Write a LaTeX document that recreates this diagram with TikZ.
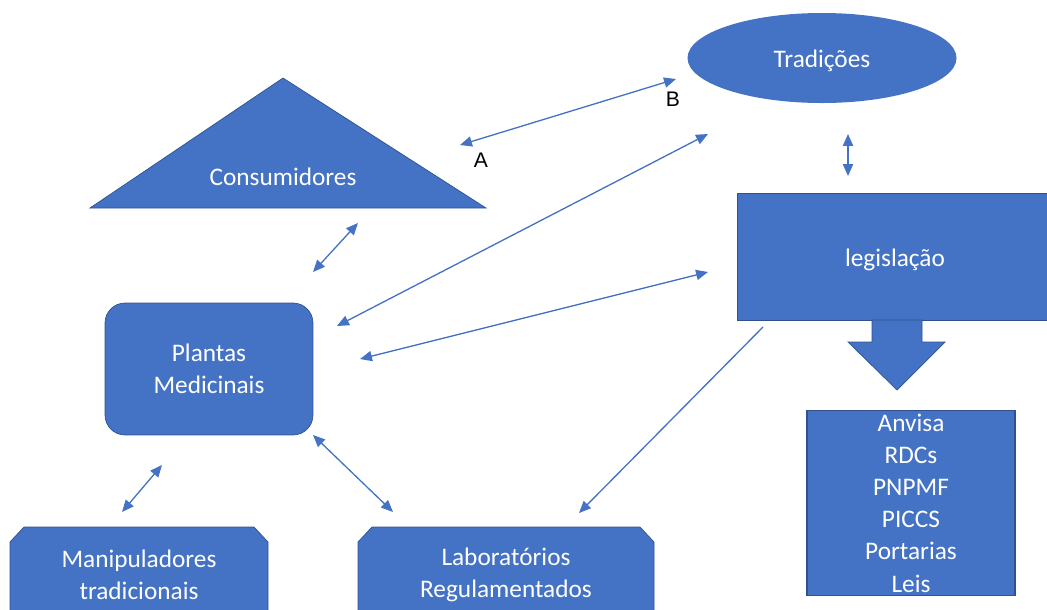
\documentclass[tikz,border=0pt]{standalone}
\usepackage{fontspec}
\setmainfont{Carlito}
\newfontfamily\arialfont{Liberation Sans}
\usepackage{tikz}
\usetikzlibrary{arrows,arrows.meta,shapes}
\definecolor{azul}{HTML}{4472C4}
\definecolor{azulEsc}{HTML}{2F528F}
\tikzstyle{link}=[<->, >={Triangle[length=6.8pt,width=5.8pt]}, line width=0.75pt, draw=azul]
\tikzstyle{linkOne}=[->, >={Triangle[length=6.8pt,width=5.8pt]}, line width=0.75pt, draw=azul]
\tikzstyle{blueFill}=[fill=azul, draw=azulEsc, line width=0.4pt]
\tikzstyle{blueText}=[text=white, align=center, font=\fontsize{14.4}{18.3}\selectfont, inner sep=0pt]
\tikzstyle{blueBox}=[rectangle, blueFill, blueText]
\tikzstyle{letra}=[text=black, font=\arialfont\fontsize{12}{14}\selectfont, inner sep=0pt]

\begin{document}
\begin{tikzpicture}[x=0.02cm, y=-0.02cm]
      \clip (0,0) rectangle (1047,609);
      % shapes
      \fill[azul] (822,58) ellipse (134.5 and 45);
      \node(trad) [blueText] at (822, 61){Tradições};
      \fill[blueFill] (283,78) -- (486,208) -- (90,208) -- cycle;
      \node(cons) [blueText] at (283, 177){Consumidores};
      \node(leg) [blueBox, minimum width=6.2cm, minimum height=2.54cm] at (892, 256.5){};
      \node[blueText] at (895, 260){legislação};
      \fill[blueFill] (872,320) -- (872,342) -- (848,342) -- (897,390) -- (945,342) -- (922,342) -- (922,320) -- cycle;
      \node(lista) [blueBox, draw=azulEsc, line width=0.9pt, minimum width=4.16cm, minimum height=3.7cm] at (911, 503){Anvisa\\RDCs\\PNPMF\\PICCS\\Portarias\\Leis};
      \node(plantas) [blueBox, rounded corners=0.4cm, minimum width=4.16cm, minimum height=2.64cm] at (209, 369){Plantas\\Medicinais};
      \fill[blueFill] (10,650) -- (10,542) -- (24,527) -- (254,527) -- (268,542) -- (268,650) -- cycle;
      \node(manip) [blueText] at (139, 575){Manipuladores\\tradicionais};
      \fill[blueFill] (358,650) -- (358,542) -- (372,527) -- (640,527) -- (654,542) -- (654,650) -- cycle;
      \node(lab) [blueText] at (506, 575){Laboratórios\\Regulamentados};
      % arrow ends
      \coordinate(cons-e) at (460, 145);
      \coordinate(trad-w) at (676, 79);
      \coordinate(trad-s) at (848, 134);
      \coordinate(leg-n) at (848, 176);
      \coordinate(cons-s) at (358, 223);
      \coordinate(plantas-n) at (313, 272);
      \coordinate(trad-sw) at (708, 134);
      \coordinate(plantas-ne) at (337, 326);
      \coordinate(leg-w) at (708, 272);
      \coordinate(plantas-e) at (360, 359);
      \coordinate(leg-sw) at (763, 327);
      \coordinate(lab-ne) at (579, 513);
      \coordinate(plantas-s) at (162, 465);
      \coordinate(manip-n) at (122, 512);
      \coordinate(plantas-se) at (313, 435);
      \coordinate(lab-nw) at (393, 512);
      \node(A) [letra] at (481, 160){A};
      \node(B) [letra] at (673, 99){B};
      \draw[link] (cons-e) to (trad-w);
      \draw[link] (trad-s) to (leg-n);
      \draw[link] (cons-s) to (plantas-n);
      \draw[link] (trad-sw) to (plantas-ne);
      \draw[link] (leg-w) to (plantas-e);
      \draw[linkOne] (leg-sw) to (lab-ne);
      \draw[link] (plantas-s) to (manip-n);
      \draw[link] (plantas-se) to (lab-nw);
    \end{tikzpicture}
\end{document}
